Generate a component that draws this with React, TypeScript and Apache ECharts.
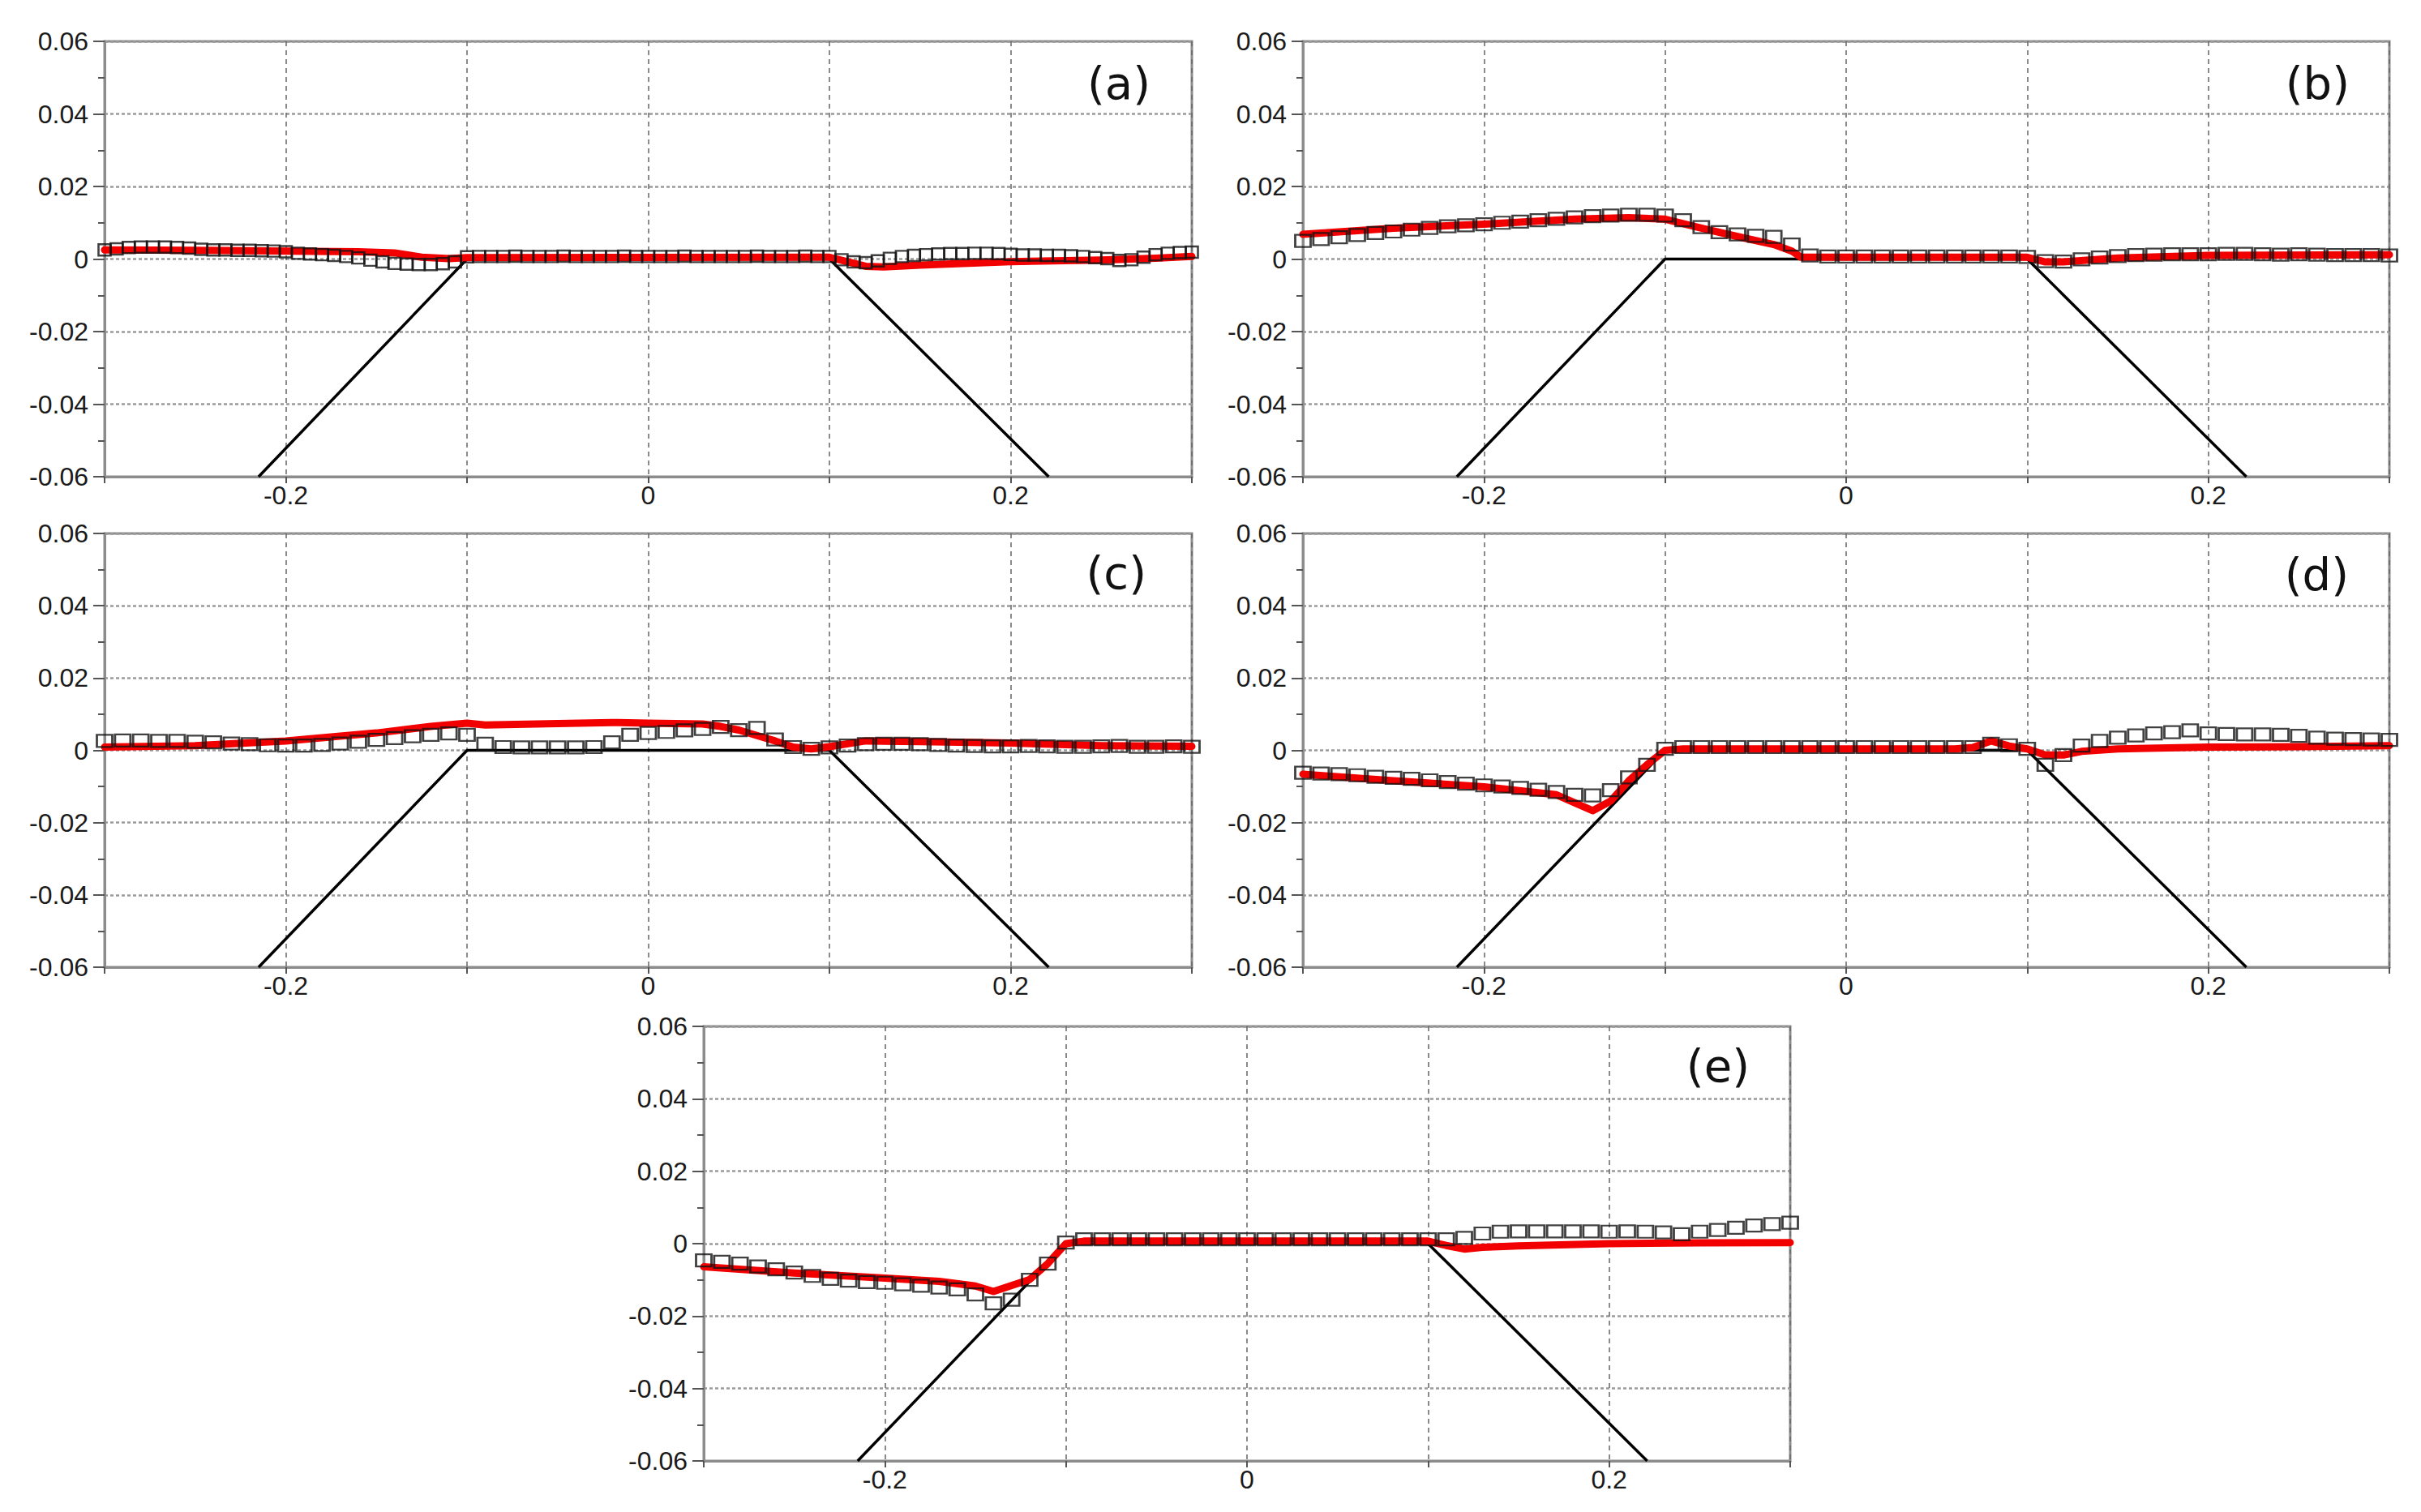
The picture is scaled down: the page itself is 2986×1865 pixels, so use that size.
import React, { useEffect, useRef } from "react";
import * as echarts from "echarts";

// ---------- data ----------
const panelLabels = ["(a)", "(b)", "(c)", "(d)", "(e)"];
const xTickValues = [-0.2, 0, 0.2];
const xTickTexts = ["-0.2", "0", "0.2"];
const yTickValues = [-0.06, -0.04, -0.02, 0, 0.02, 0.04, 0.06];
const yTickTexts = ["-0.06", "-0.04", "-0.02", "0", "0.02", "0.04", "0.06"];

// reference profile (black trapezoid)
const profileX = [-0.215, -0.1, 0.1, 0.221];
const profileY = [-0.06, 0, 0, -0.06];

// measured points (open squares); sampled from x = -0.3 to 0.3
const squaresA = [
  0.0025, 0.0028, 0.0032, 0.0033, 0.0033, 0.0033, 0.0032, 0.0030, 0.0027, 0.0025,
  0.0025, 0.0024, 0.0024, 0.0023, 0.0022, 0.0020, 0.0016, 0.0014, 0.0012, 0.0010,
  0.0007, 0.0003, -0.0003, -0.0008, -0.0012, -0.0014, -0.0015, -0.0015, -0.0013, -0.0008,
  0.0006, 0.0007, 0.0007, 0.0007, 0.0008, 0.0007, 0.0007, 0.0007, 0.0008, 0.0007,
  0.0007, 0.0007, 0.0007, 0.0008, 0.0007, 0.0007, 0.0007, 0.0007, 0.0008, 0.0007,
  0.0007, 0.0007, 0.0007, 0.0007, 0.0008, 0.0007, 0.0007, 0.0007, 0.0008, 0.0007,
  0.0007, -0.0002, -0.0008, -0.0010, -0.0005, 0.0002, 0.0007, 0.0010, 0.0012, 0.0014,
  0.0015, 0.0015, 0.0016, 0.0016, 0.0015, 0.0013, 0.0011, 0.0011, 0.0010, 0.0010,
  0.0009, 0.0007, 0.0004, 0.0001, -0.0004, -0.0002, 0.0005, 0.0012, 0.0016, 0.0018,
  0.0019,
];
const squaresB = [
  0.0050, 0.0055, 0.0060, 0.0066, 0.0072, 0.0076, 0.0081, 0.0086, 0.0090, 0.0093,
  0.0096, 0.0100, 0.0103, 0.0107, 0.0111, 0.0115, 0.0118, 0.0120, 0.0122, 0.0122,
  0.0120, 0.0107, 0.0088, 0.0074, 0.0068, 0.0064, 0.0061, 0.0040, 0.0010, 0.0007,
  0.0007, 0.0007, 0.0007, 0.0007, 0.0007, 0.0007, 0.0007, 0.0007, 0.0007, 0.0007,
  0.0006, -0.0006, -0.0007, -0.0001, 0.0004, 0.0008, 0.0011, 0.0012, 0.0013, 0.0013,
  0.0013, 0.0014, 0.0014, 0.0013, 0.0012, 0.0013, 0.0012, 0.0011, 0.0011, 0.0011,
  0.0010,
];
const squaresC = [
  0.0026, 0.0027, 0.0027, 0.0026, 0.0026, 0.0024, 0.0022, 0.0019, 0.0017, 0.0014,
  0.0013, 0.0013, 0.0015, 0.0019, 0.0024, 0.0029, 0.0034, 0.0039, 0.0043, 0.0047,
  0.0043, 0.0018, 0.0009, 0.0008, 0.0008, 0.0008, 0.0008, 0.0009, 0.0022, 0.0043,
  0.0048, 0.0051, 0.0055, 0.0059, 0.0065, 0.0056, 0.0062, 0.0030, 0.0009, 0.0004,
  0.0008, 0.0013, 0.0017, 0.0018, 0.0018, 0.0017, 0.0015, 0.0013, 0.0012, 0.0011,
  0.0011, 0.0012, 0.0011, 0.0010, 0.0010, 0.0011, 0.0012, 0.0010, 0.0010, 0.0011,
  0.0010,
];
const squaresD = [
  -0.0062, -0.0064, -0.0066, -0.0069, -0.0073, -0.0076, -0.0079, -0.0083, -0.0088, -0.0092,
  -0.0097, -0.0100, -0.0104, -0.0109, -0.0115, -0.0123, -0.0125, -0.0110, -0.0075, -0.0040,
  0.0004, 0.0009, 0.0009, 0.0009, 0.0009, 0.0009, 0.0009, 0.0009, 0.0009, 0.0009,
  0.0009, 0.0009, 0.0009, 0.0009, 0.0009, 0.0009, 0.0009, 0.0009, 0.0018, 0.0014,
  0.0004, -0.0040, -0.0013, 0.0013, 0.0026, 0.0035, 0.0041, 0.0047, 0.0050, 0.0055,
  0.0047, 0.0045, 0.0044, 0.0044, 0.0043, 0.0040, 0.0035, 0.0032, 0.0031, 0.0030,
  0.0029,
];
const squaresE = [
  -0.0046, -0.0050, -0.0055, -0.0063, -0.0071, -0.0080, -0.0089, -0.0097, -0.0102, -0.0106,
  -0.0108, -0.0112, -0.0116, -0.0121, -0.0126, -0.0140, -0.0165, -0.0155, -0.0100, -0.0055,
  0.0003, 0.0012, 0.0012, 0.0012, 0.0012, 0.0012, 0.0012, 0.0012, 0.0012, 0.0012,
  0.0012, 0.0012, 0.0012, 0.0012, 0.0012, 0.0012, 0.0012, 0.0012, 0.0012, 0.0012,
  0.0012, 0.0012, 0.0016, 0.0028, 0.0033, 0.0034, 0.0034, 0.0034, 0.0034, 0.0034,
  0.0033, 0.0034, 0.0033, 0.0031, 0.0026, 0.0033, 0.0038, 0.0044, 0.0050, 0.0054,
  0.0058,
];

// model curves (thick red line), vertices
const redAx = [-0.3, -0.25, -0.2, -0.16, -0.14, -0.125, -0.11, -0.1, 0.1, 0.12, 0.13, 0.15, 0.2, 0.25, 0.28, 0.3];
const redAy = [0.0025, 0.0024, 0.0022, 0.002, 0.0017, 0.0005, 0.0001, 0.0004, 0.0005, -0.002, -0.0022, -0.0017, -0.0007, -0.0003, 0.0002, 0.0007];
const redBx = [-0.3, -0.25, -0.2, -0.15, -0.12, -0.1, -0.08, -0.06, -0.04, -0.03, -0.025, 0.1, 0.11, 0.12, 0.15, 0.2, 0.3];
const redBy = [0.0068, 0.0085, 0.0096, 0.011, 0.0114, 0.011, 0.0085, 0.0062, 0.004, 0.0022, 0.0005, 0.0005, -0.0008, -0.0008, 0.0003, 0.001, 0.0012];
const redCx = [-0.3, -0.25, -0.2, -0.15, -0.12, -0.1, -0.09, -0.05, -0.02, 0.0, 0.03, 0.04, 0.05, 0.06, 0.07, 0.08, 0.09, 0.1, 0.12, 0.15, 0.2, 0.25, 0.3];
const redCy = [0.0009, 0.0013, 0.0026, 0.0048, 0.0066, 0.0075, 0.007, 0.0074, 0.0077, 0.0075, 0.0073, 0.0066, 0.0056, 0.0041, 0.0026, 0.0009, 0.0004, 0.001, 0.0026, 0.0024, 0.002, 0.0013, 0.0011];
const redDx = [-0.3, -0.25, -0.2, -0.16, -0.14, -0.13, -0.12, -0.11, -0.1, -0.09, 0.06, 0.07, 0.08, 0.09, 0.1, 0.11, 0.12, 0.13, 0.15, 0.2, 0.25, 0.3];
const redDy = [-0.0066, -0.0084, -0.0101, -0.0123, -0.0167, -0.014, -0.0084, -0.004, 0.0, 0.0004, 0.0004, 0.0008, 0.0026, 0.0012, 0.0004, -0.0013, -0.0013, -0.0003, 0.0004, 0.0009, 0.001, 0.0013];
const redEx = [-0.3, -0.25, -0.2, -0.17, -0.15, -0.14, -0.12, -0.11, -0.1, -0.09, 0.1, 0.11, 0.12, 0.13, 0.15, 0.2, 0.25, 0.3];
const redEy = [-0.0064, -0.0081, -0.0095, -0.0104, -0.0117, -0.0132, -0.0099, -0.0055, 0.0, 0.0007, 0.0007, -0.0005, -0.0015, -0.001, -0.0006, 0.0, 0.0002, 0.0003];

const squaresAll = [squaresA, squaresB, squaresC, squaresD, squaresE];
const redXAll = [redAx, redBx, redCx, redDx, redEx];
const redYAll = [redAy, redBy, redCy, redDy, redEy];

// ---------- layout (px) ----------
const grids = [
  { left: 129, top: 51, width: 1341, height: 537 },
  { left: 1607, top: 51, width: 1340, height: 537 },
  { left: 129, top: 658, width: 1341, height: 535 },
  { left: 1607, top: 658, width: 1340, height: 535 },
  { left: 868, top: 1266, width: 1340, height: 536 },
];
const labelPos = [
  { x: 1419, y: 102 },
  { x: 2898, y: 102 },
  { x: 1414, y: 706 },
  { x: 2897, y: 708 },
  { x: 2158, y: 1314 },
];
const markerSizes = [[15, 14], [19, 15], [19, 15], [19, 15], [19, 15]];

const X_MIN = -0.3;
const X_MAX = 0.3;

function pairs(xs: number[], ys: number[]) {
  return xs.map((x, i) => [x, ys[i]]);
}
function samplePairs(ys: number[]) {
  const step = (X_MAX - X_MIN) / (ys.length - 1);
  return ys.map((y, i) => [X_MIN + i * step, y]);
}

function fmtX(v: number) {
  for (let i = 0; i < xTickValues.length; i++) {
    if (Math.abs(v - xTickValues[i]) < 1e-6) return xTickTexts[i];
  }
  return "";
}
function fmtY(v: number) {
  for (let i = 0; i < yTickValues.length; i++) {
    if (Math.abs(v - yTickValues[i]) < 1e-6) return yTickTexts[i];
  }
  return "";
}

export default function App() {
  const ref = useRef<HTMLDivElement>(null);
  useEffect(() => {
    if (!ref.current) return;
    const chart = echarts.init(ref.current, null, { renderer: "svg" });
    const frame = "#8c8c8c";
    const option: any = {
      animation: false,
      backgroundColor: "#ffffff",
      grid: grids.map((g) => ({
        ...g,
        show: true,
        borderColor: frame,
        borderWidth: 3,
        backgroundColor: "transparent",
        containLabel: false,
      })),
      xAxis: grids.map((_, i) => ({
        type: "value",
        gridIndex: i,
        min: X_MIN,
        max: X_MAX,
        interval: 0.1,
        axisLine: { show: true, onZero: false, lineStyle: { color: frame, width: 3 } },
        axisTick: { show: true, length: 8, lineStyle: { color: "#555", width: 2 } },
        splitLine: { show: true, lineStyle: { color: "#666", width: 1.5, type: [6, 5] } },
        axisLabel: {
          formatter: fmtX,
          fontSize: 32,
          color: "#1a1a1a",
          fontFamily: "Liberation Sans, Arial, sans-serif",
          margin: 7,
          showMinLabel: true,
          showMaxLabel: true,
        },
      })),
      yAxis: grids.map((_, i) => ({
        type: "value",
        gridIndex: i,
        min: -0.06,
        max: 0.06,
        interval: 0.02,
        axisLine: { show: true, onZero: false, lineStyle: { color: frame, width: 3 } },
        axisTick: { show: true, length: 14, lineStyle: { color: "#555", width: 2 } },
        minorTick: { show: true, splitNumber: 2, length: 8, lineStyle: { color: "#555", width: 2 } },
        splitLine: { show: true, lineStyle: { color: "#9a9a9a", width: 2.5, type: [4, 3] } },
        axisLabel: {
          formatter: fmtY,
          fontSize: 32,
          color: "#1a1a1a",
          fontFamily: "Liberation Sans, Arial, sans-serif",
          margin: 20,
        },
      })),
      series: grids.flatMap((_, i) => [
        {
          type: "line",
          xAxisIndex: i,
          yAxisIndex: i,
          data: pairs(profileX, profileY),
          showSymbol: false,
          symbol: "none",
          lineStyle: { color: "#000", width: 3.5 },
          z: 2,
          clip: true,
        },
        {
          type: "line",
          xAxisIndex: i,
          yAxisIndex: i,
          data: pairs(redXAll[i], redYAll[i]),
          showSymbol: false,
          symbol: "none",
          lineStyle: { color: "#f20000", width: 9, join: "round", cap: "round" },
          z: 3,
          clip: true,
        },
        {
          type: "scatter",
          xAxisIndex: i,
          yAxisIndex: i,
          data: samplePairs(squaresAll[i]),
          symbol: "rect",
          symbolSize: markerSizes[i],
          itemStyle: { color: "rgba(255,255,255,0)", borderColor: "#111", borderWidth: 2.5 },
          z: 4,
        },
      ]),
      graphic: panelLabels.map((t, i) => ({
        type: "text",
        x: labelPos[i].x,
        y: labelPos[i].y,
        z: 10,
        style: {
          text: t,
          fontSize: 56,
          fontFamily: "DejaVu Sans, sans-serif",
          fill: "#111",
          textAlign: "right",
          textVerticalAlign: "middle",
        },
      })),
    };
    chart.setOption(option);
    return () => chart.dispose();
  }, []);
  return (
    <div
      ref={ref}
      style={{ position: "fixed", left: 0, top: 0, width: 2986, height: 1865, background: "#fff" }}
    />
  );
}
